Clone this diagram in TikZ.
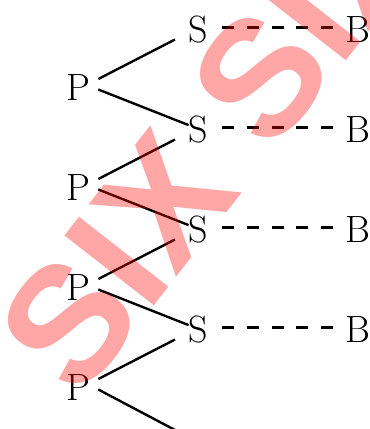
\documentclass[tikz,border=0pt]{standalone}
\usepackage{fontspec}
\newfontfamily\wmfont{Liberation Sans}
\begin{document}
\begin{tikzpicture}[x=1pt,y=1pt,
  lbl/.style={anchor=base,inner sep=0pt,font=\fontsize{38}{40}\selectfont},
  link/.style={line width=2.4pt},
  dashlink/.style={line width=2.4pt,dash pattern=on 12pt off 12.75pt},
  wmark/.style={inner sep=0pt,text=red,text opacity=0.35,font=\wmfont\bfseries\fontsize{165}{170}\selectfont}]
\useasboundingbox (0,0) rectangle (370,-429);
\clip (0,0) rectangle (370,-429);
% P nodes
\node[lbl] (P1) at (78,-100) {P};
\node[lbl] (P2) at (78,-200) {P};
\node[lbl] (P3) at (78,-300) {P};
\node[lbl] (P4) at (78,-400) {P};
% S nodes
\node[lbl] (S1) at (198.5,-42) {S};
\node[lbl] (S2) at (198.5,-142) {S};
\node[lbl] (S3) at (198.5,-242) {S};
\node[lbl] (S4) at (198.5,-342) {S};
\coordinate (S5) at (198.5,-442);
% B nodes
\node[lbl] (B1) at (358,-42) {B};
\node[lbl] (B2) at (358,-142) {B};
\node[lbl] (B3) at (358,-242) {B};
\node[lbl] (B4) at (358,-342) {B};
% solid links
\foreach \p/\s in {P1/S1,P2/S2,P3/S3,P4/S4}
  \draw[link] ([shift={(20.3,21)}]\p.base) -- ([shift={(-23.5,2.5)}]\s.base);
\foreach \p/\s in {P1/S2,P2/S3,P3/S4,P4/S5}
  \draw[link] ([shift={(20.3,10.5)}]\p.base) -- ([shift={(-23.5,12)}]\s);
% dashed links
\foreach \s/\b in {S1/B1,S2/B2,S3/B3,S4/B4}
  \draw[dashlink] ([shift={(23.5,14.5)}]\s.base) -- ([shift={(-25,14.5)}]\b.base);
% watermark
\node[wmark,rotate=52] (wm) at (213,-139) {SIX SIX};
\end{tikzpicture}
\end{document}
